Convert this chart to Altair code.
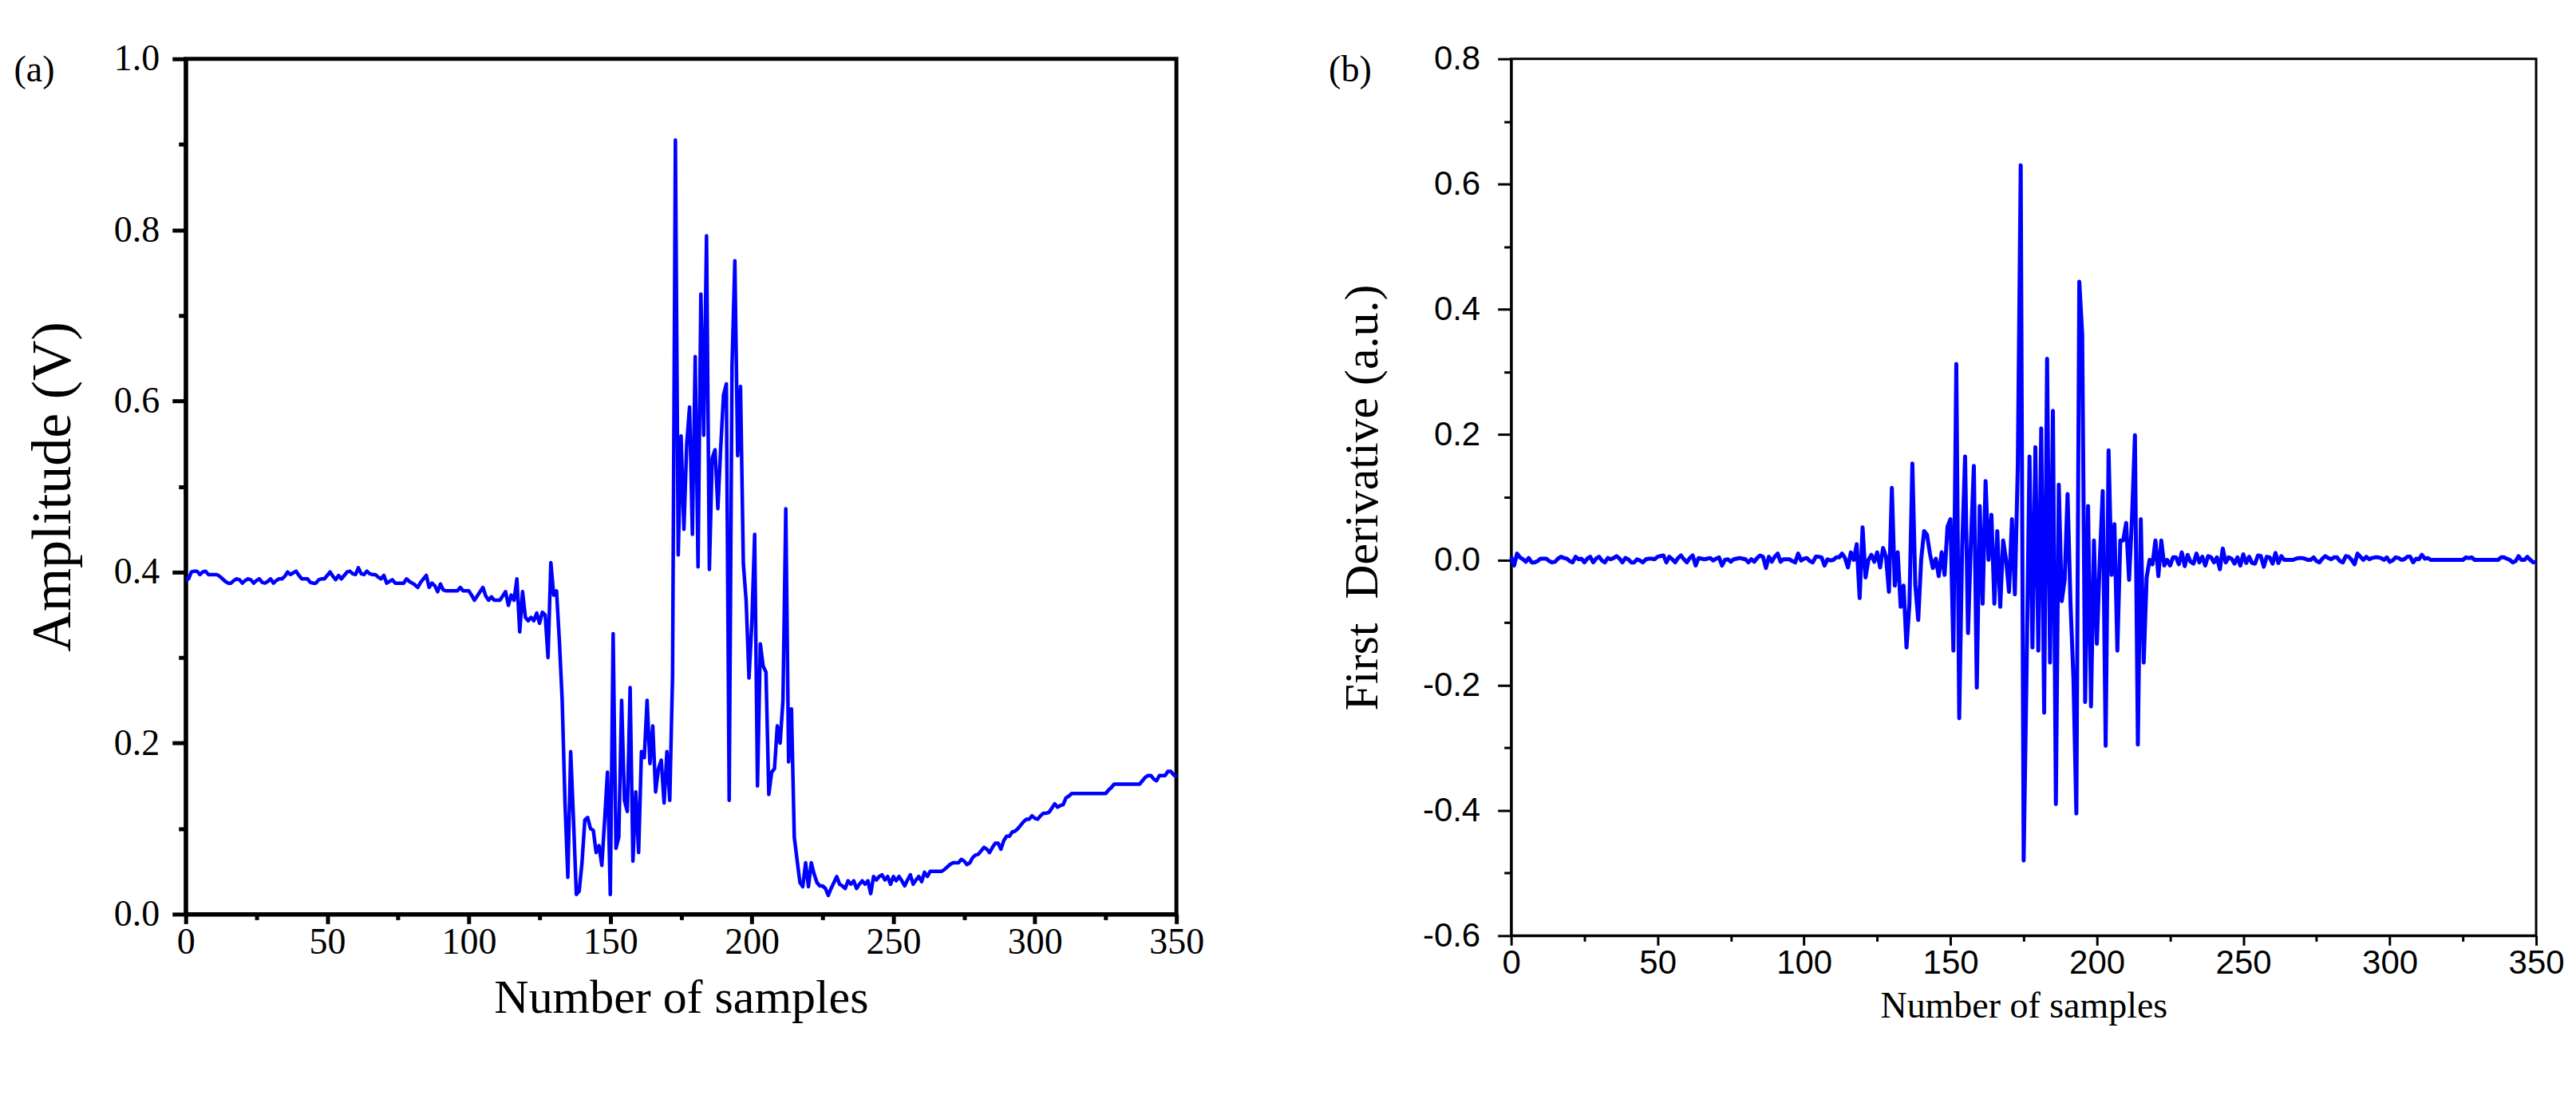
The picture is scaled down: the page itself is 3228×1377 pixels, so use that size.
import altair as alt
import pandas as pd

SERIF = "Liberation Serif"
SANS = "Liberation Sans"
BLUE = "#0000FF"

samples = list(range(0, 351))

amplitude = [
    0.391, 0.392, 0.400, 0.401, 0.401, 0.397, 0.400, 0.401, 0.397, 0.397,
    0.397, 0.397, 0.395, 0.392, 0.389, 0.387, 0.387, 0.390, 0.392, 0.391,
    0.387, 0.390, 0.392, 0.391, 0.387, 0.390, 0.392, 0.388, 0.387, 0.389,
    0.392, 0.387, 0.390, 0.392, 0.392, 0.395, 0.400, 0.397, 0.399, 0.401,
    0.396, 0.392, 0.392, 0.392, 0.388, 0.387, 0.387, 0.391, 0.392, 0.392,
    0.396, 0.400, 0.395, 0.391, 0.396, 0.392, 0.396, 0.400, 0.401, 0.398,
    0.397, 0.405, 0.398, 0.397, 0.401, 0.398, 0.397, 0.397, 0.394, 0.392,
    0.396, 0.387, 0.389, 0.391, 0.387, 0.387, 0.387, 0.387, 0.392, 0.389,
    0.387, 0.385, 0.382, 0.388, 0.392, 0.396, 0.382, 0.387, 0.384, 0.377,
    0.386, 0.379, 0.378, 0.378, 0.378, 0.378, 0.378, 0.382, 0.378, 0.378,
    0.378, 0.373, 0.367, 0.372, 0.377, 0.382, 0.372, 0.367, 0.371, 0.367,
    0.367, 0.367, 0.372, 0.377, 0.361, 0.373, 0.367, 0.392, 0.330, 0.377,
    0.347, 0.343, 0.347, 0.343, 0.352, 0.340, 0.353, 0.350, 0.300, 0.411,
    0.373, 0.378, 0.320, 0.250, 0.130, 0.043, 0.190, 0.110, 0.023, 0.027,
    0.060, 0.110, 0.113, 0.100, 0.098, 0.072, 0.080, 0.057, 0.110, 0.166,
    0.023, 0.328, 0.077, 0.090, 0.250, 0.133, 0.120, 0.265, 0.062, 0.143,
    0.072, 0.190, 0.183, 0.250, 0.176, 0.220, 0.143, 0.170, 0.180, 0.130,
    0.190, 0.133, 0.280, 0.905, 0.420, 0.559, 0.450, 0.550, 0.593, 0.444,
    0.652, 0.406, 0.725, 0.560, 0.793, 0.403, 0.533, 0.543, 0.474, 0.545,
    0.607, 0.620, 0.133, 0.640, 0.764, 0.536, 0.617, 0.410, 0.366, 0.276,
    0.340, 0.444, 0.150, 0.316, 0.290, 0.283, 0.140, 0.166, 0.170, 0.220,
    0.200, 0.250, 0.474, 0.178, 0.240, 0.090, 0.063, 0.037, 0.032, 0.060,
    0.032, 0.060, 0.047, 0.037, 0.033, 0.033, 0.030, 0.022, 0.030, 0.037,
    0.044, 0.035, 0.033, 0.030, 0.039, 0.035, 0.039, 0.030, 0.035, 0.039,
    0.035, 0.039, 0.024, 0.044, 0.040, 0.044, 0.046, 0.040, 0.044, 0.035,
    0.044, 0.039, 0.044, 0.039, 0.033, 0.040, 0.046, 0.035, 0.040, 0.044,
    0.038, 0.049, 0.044, 0.050, 0.050, 0.050, 0.050, 0.050, 0.052, 0.055,
    0.058, 0.060, 0.060, 0.060, 0.064, 0.062, 0.058, 0.060, 0.066, 0.069,
    0.070, 0.074, 0.078, 0.076, 0.072, 0.078, 0.083, 0.083, 0.076, 0.086,
    0.091, 0.091, 0.096, 0.097, 0.100, 0.104, 0.108, 0.111, 0.111, 0.115,
    0.112, 0.111, 0.115, 0.118, 0.118, 0.119, 0.124, 0.129, 0.125, 0.127,
    0.128, 0.136, 0.138, 0.141, 0.141, 0.141, 0.141, 0.141, 0.141, 0.141,
    0.141, 0.141, 0.141, 0.141, 0.141, 0.141, 0.145, 0.148, 0.152, 0.152,
    0.152, 0.152, 0.152, 0.152, 0.152, 0.152, 0.152, 0.152, 0.156, 0.160,
    0.162, 0.162, 0.158, 0.156, 0.162, 0.162, 0.162, 0.167, 0.167, 0.163,
    0.160,
]

derivative = [
    0.005, -0.009, 0.010, 0.004, 0.001, -0.003, 0.003, -0.004, -0.004, -0.002,
    0.002, 0.002, 0.002, -0.002, -0.004, -0.003, 0.002, 0.005, 0.003, 0.002,
    -0.002, -0.004, 0.005, 0.001, 0.002, -0.004, 0.002, 0.005, -0.004, 0.002,
    0.005, -0.001, -0.004, 0.003, 0.001, 0.003, 0.006, 0.002, -0.004, 0.003,
    0.001, -0.004, -0.004, 0.001, -0.001, -0.004, 0.001, 0.002, 0.002, 0.001,
    0.005, 0.006, 0.007, -0.004, 0.005, 0.001, -0.004, 0.003, 0.007, 0.001,
    -0.004, 0.003, 0.007, -0.009, 0.003, 0.002, 0.001, 0.002, 0.003, -0.001,
    0.002, 0.004, -0.009, 0.000, 0.001, -0.003, 0.001, 0.002, 0.003, 0.002,
    0.001, -0.004, 0.001, -0.003, 0.003, 0.007, 0.005, -0.013, 0.005, -0.003,
    0.005, 0.010, -0.003, 0.001, 0.001, 0.001, -0.002, -0.004, 0.010, -0.001,
    0.002, 0.003, -0.002, -0.004, 0.005, 0.005, 0.004, -0.009, 0.001, -0.001,
    0.000, 0.004, 0.004, 0.010, 0.003, -0.012, 0.012, 0.000, 0.025, -0.061,
    0.052, -0.028, 0.000, 0.008, -0.003, 0.012, -0.012, 0.019, 0.005, -0.051,
    0.115, -0.041, 0.012, -0.075, -0.041, -0.140, -0.070, 0.154, -0.040, -0.096,
    0.000, 0.046, 0.040, 0.010, -0.013, 0.002, -0.026, 0.012, -0.024, 0.053,
    0.065, -0.145, 0.313, -0.253, 0.020, 0.165, -0.117, 0.030, 0.150, -0.204,
    0.086, -0.070, 0.126, 0.000, 0.072, -0.070, 0.046, -0.075, 0.031, 0.000,
    -0.051, 0.065, -0.055, 0.150, 0.630, -0.480, -0.177, 0.165, -0.140, 0.180,
    -0.145, 0.210, -0.244, 0.321, -0.164, 0.238, -0.390, 0.120, -0.066, -0.032,
    0.105, -0.070, -0.189, -0.405, 0.444, 0.360, -0.227, 0.086, -0.234, 0.031,
    -0.134, 0.000, 0.110, -0.297, 0.175, -0.024, 0.057, -0.145, 0.031, 0.031,
    0.059, -0.032, 0.067, 0.199, -0.295, 0.065, -0.164, -0.028, 0.000, -0.007,
    0.031, -0.026, 0.031, -0.009, 0.000, -0.009, 0.004, 0.004, -0.007, 0.012,
    -0.010, 0.008, -0.003, -0.006, 0.010, -0.004, 0.005, -0.009, 0.006, 0.004,
    -0.004, 0.004, -0.015, 0.018, -0.004, 0.004, 0.002, -0.006, 0.004, -0.009,
    0.009, -0.005, 0.005, -0.005, -0.006, 0.007, 0.006, -0.011, 0.005, 0.004,
    -0.006, 0.011, -0.005, 0.006, 0.000, 0.000, 0.000, 0.000, 0.002, 0.003,
    0.003, 0.002, 0.000, 0.000, 0.004, -0.002, -0.004, 0.002, 0.006, 0.003,
    0.001, 0.004, 0.004, -0.002, -0.004, 0.006, 0.005, 0.000, -0.007, 0.010,
    0.005, 0.000, 0.005, 0.001, 0.003, 0.004, 0.004, 0.003, 0.000, 0.004,
    -0.003, -0.001, 0.004, 0.003, 0.000, 0.001, 0.005, 0.005, -0.004, 0.002,
    0.001, 0.008, 0.002, 0.003, 0.000, 0.000, 0.000, 0.000, 0.000, 0.000,
    0.000, 0.000, 0.000, 0.000, 0.000, 0.000, 0.004, 0.003, 0.004, 0.000,
    0.000, 0.000, 0.000, 0.000, 0.000, 0.000, 0.000, 0.000, 0.004, 0.004,
    0.002, 0.000, -0.004, -0.002, 0.006, 0.000, 0.000, 0.005, 0.000, -0.004,
    -0.003,
]

x_major = [0, 50, 100, 150, 200, 250, 300, 350]
x_minor = [25, 75, 125, 175, 225, 275, 325]
a_y_major = [0.0, 0.2, 0.4, 0.6, 0.8, 1.0]
a_y_minor = [0.1, 0.3, 0.5, 0.7, 0.9]
b_y_major = [-0.6, -0.4, -0.2, 0.0, 0.2, 0.4, 0.6, 0.8]
b_y_minor = [-0.5, -0.3, -0.1, 0.1, 0.3, 0.5, 0.7]
panel_tags = ["(a)", "(b)"]

df_a = pd.DataFrame({"s": samples, "v": amplitude})
df_b = pd.DataFrame({"s": samples, "v": derivative})

W_A, H_A = 1243, 1073
W_B, H_B = 1286, 1100


def panel(df, width, height, ydom, ymaj, ymin, ytitle, tag, lw, frame_w,
          lab_font, lab_size, ttl_size_x, ttl_size_y, ttl_x, ttl_y_off,
          xt_major, xt_minor, yt_major, yt_minor, xlab_pad, ylab_pad, tag_x):
    xs = alt.Scale(domain=[0, 350], nice=False, zero=False)
    ys = alt.Scale(domain=ydom, nice=False, zero=False)
    common = dict(grid=False, domainColor="black", tickColor="black",
                  labelColor="black", titleColor="black",
                  tickWidth=frame_w, domainWidth=frame_w)
    line = alt.Chart(df).mark_line(color=BLUE, strokeWidth=lw, strokeJoin="round").encode(
        x=alt.X("s:Q", scale=xs, axis=alt.Axis(
            orient="bottom", values=x_major, format="d",
            title="Number of samples", titleFont=SERIF, titleFontSize=ttl_size_x,
            titleFontWeight="normal", titleBaseline="alphabetic",
            titleX=width / 2, titleY=ttl_y_off, titleAlign="center",
            labelFont=lab_font, labelFontSize=lab_size, labelPadding=xlab_pad,
            labelFlush=False, labelOverlap=False, tickSize=xt_major, **common)),
        y=alt.Y("v:Q", scale=ys, axis=alt.Axis(
            orient="left", values=ymaj,
            labelExpr="replace(format(datum.value, '.1f'), '\u2212', '-')",
            title=ytitle, titleFont=SERIF, titleFontSize=ttl_size_y,
            titleFontWeight="normal", titleBaseline="middle", titleAngle=270,
            titleX=ttl_x, titleY=height / 2, titleAlign="center",
            labelFont=lab_font, labelFontSize=lab_size, labelPadding=ylab_pad,
            labelFlush=False, labelOverlap=False, tickSize=yt_major, **common)),
    )
    minor = alt.Chart(df).mark_point(opacity=0, size=1).encode(
        x=alt.X("s:Q", scale=xs, axis=alt.Axis(
            orient="bottom", values=x_minor, labels=False, domain=False,
            grid=False, title=None, tickSize=xt_minor, tickColor="black",
            tickWidth=frame_w)),
        y=alt.Y("v:Q", scale=ys, axis=alt.Axis(
            orient="left", values=ymin, labels=False, domain=False,
            grid=False, title=None, tickSize=yt_minor, tickColor="black",
            tickWidth=frame_w)),
    )
    label = alt.Chart(pd.DataFrame({"t": [tag]})).mark_text(
        font=SERIF, fontSize=46, color="black", align="center", baseline="middle"
    ).encode(text="t:N", x=alt.value(tag_x), y=alt.value(14))
    return alt.layer(line, minor, label).resolve_axis(
        x="independent", y="independent"
    ).properties(
        width=width, height=height,
        view=alt.ViewBackground(stroke="black", strokeWidth=frame_w, fill="white"),
    )


pa = panel(df_a, W_A, H_A, [0, 1], a_y_major, a_y_minor, "Amplitude (V)",
           panel_tags[0], 4.5, 5, SERIF, 46, 60, 70, -166, 123,
           12, 7, 17, 9, 1, 16, -190)
pb = panel(df_b, W_B, H_B, [-0.6, 0.8], b_y_major, b_y_minor,
           "First\u00a0 Derivative (a.u.)",
           panel_tags[1], 5, 3, SANS, 42, 46, 60, -186, 102,
           12, 7, 17, 9, 2, 22, -202)

chart = alt.hconcat(pa, pb, spacing=420, bounds="flush").properties(
    padding={"left": 6, "top": 39, "right": 5, "bottom": 5},
    background="white",
).configure_view(stroke="black")

chart.save("out.html", embed_options={"renderer": "svg", "actions": False})
